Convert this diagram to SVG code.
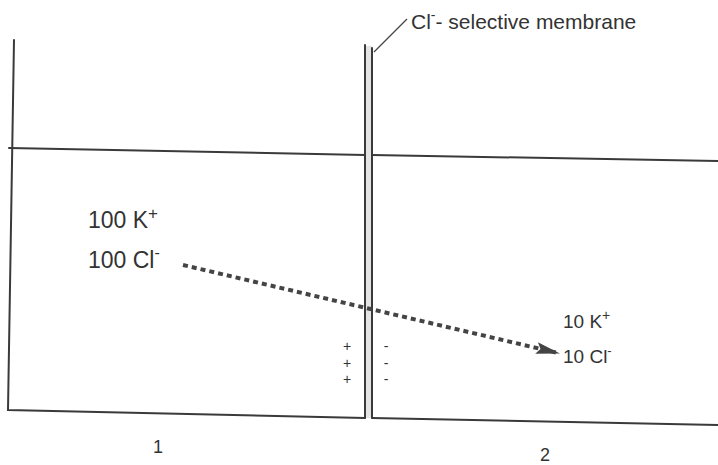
<svg xmlns="http://www.w3.org/2000/svg" width="718" height="465" viewBox="0 0 718 465">
<style>
.wall{fill:none;stroke:#3a3a3a;stroke-width:2;stroke-linecap:round}
.txt{font-family:"Liberation Sans",Arial,sans-serif;fill:#333}
.dot{fill:none;stroke:#444;stroke-width:4;stroke-dasharray:5 4}
</style>
<defs>
<marker id="ah" viewBox="0 0 24 14" refX="22" refY="7" markerWidth="24" markerHeight="14" orient="auto" markerUnits="userSpaceOnUse">
<path d="M0,1 L24,7 L0,13 L4,7 Z" fill="#444"/>
</marker>
</defs>
<g id="container">
<polyline class="wall" points="14,40 8,410 365,418"/>
<line class="wall" x1="372" y1="418" x2="718" y2="425"/>
<line class="wall" x1="9" y1="148" x2="365" y2="155"/>
<line class="wall" x1="372" y1="155" x2="718" y2="161"/>
</g>
<g id="membrane">
<rect x="365" y="46" width="7" height="372" fill="#e4e4e4"/>
<line class="wall" x1="365" y1="45" x2="365" y2="418"/>
<line class="wall" x1="372" y1="48" x2="372" y2="418"/>
<line x1="374" y1="52" x2="407" y2="19" stroke="#444" stroke-width="1.2"/>
<text class="txt" x="411" y="29" font-size="21">Cl<tspan dy="-9" font-size="14">-</tspan><tspan dy="9">- selective membrane</tspan></text>
</g>
<g id="charges" class="txt">
<text font-size="14" text-anchor="middle"><tspan x="347" y="351">+</tspan><tspan x="347" y="367.5">+</tspan><tspan x="347" y="384">+</tspan></text>
<text font-size="14" text-anchor="middle"><tspan x="386" y="351">-</tspan><tspan x="386" y="367.5">-</tspan><tspan x="386" y="384">-</tspan></text>
</g>
<g id="side1">
<text class="txt" x="88" y="228" font-size="23">100 K<tspan dy="-9" font-size="17">+</tspan></text>
<text class="txt" x="88" y="268" font-size="23">100 Cl<tspan dy="-10" font-size="16">-</tspan></text>
<text class="txt" x="158" y="453" font-size="18" text-anchor="middle">1</text>
</g>
<g id="side2">
<text class="txt" x="563" y="328" font-size="19">10 K<tspan dy="-8" font-size="14">+</tspan></text>
<text class="txt" x="563" y="363" font-size="19">10 Cl<tspan dy="-8" font-size="13">-</tspan></text>
<text class="txt" x="545" y="461" font-size="18" text-anchor="middle">2</text>
</g>
<g id="connectors">
<line class="dot" x1="183" y1="265" x2="558" y2="353" marker-end="url(#ah)"/>
</g>
</svg>
